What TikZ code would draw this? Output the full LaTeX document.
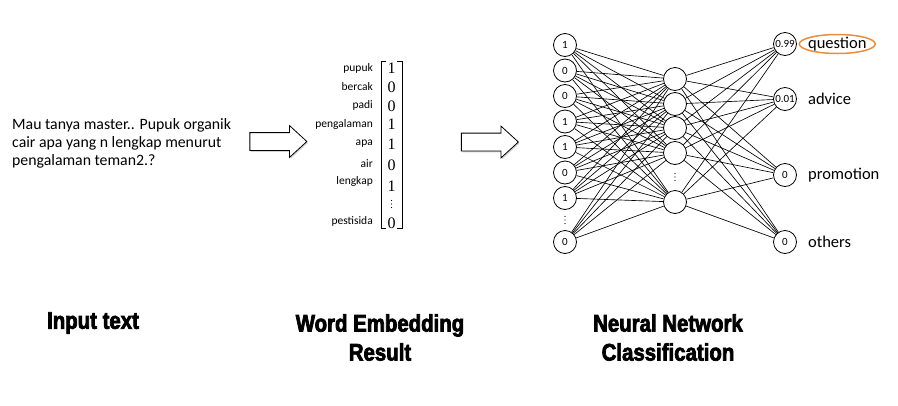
\documentclass[tikz,border=0pt]{standalone}
\usepackage{fontspec}
\setmainfont{Carlito}
\newfontfamily\headfont{Liberation Sans}[FakeStretch=0.85,BoldFeatures={FakeBold=3}]
\newfontfamily\digitfont{Liberation Serif}
\usetikzlibrary{positioning,shapes.arrows,shapes.geometric,shadows,backgrounds}
\definecolor{hlorange}{RGB}{232,142,62}

\tikzset{
  neuron/.style={circle,draw,line width=0.8pt,fill=white,minimum size=23pt,inner sep=0pt,
    font=\fontsize{11}{11}\selectfont},
  edge/.style={line width=0.65pt},
  blockarrow/.style={single arrow,draw,fill=white,line width=0.8pt,inner sep=0pt,
    text height=17pt,text depth=0pt,text width=0pt,minimum height=57pt,
    single arrow head extend=7pt,single arrow tip angle=85,
    drop shadow={opacity=0.35,shadow xshift=1pt,shadow yshift=-1.5pt}},
  wordlabel/.style={anchor=east,inner sep=0pt,font=\fontsize{11.5}{12}\selectfont},
  vecdigit/.style={inner sep=0pt,font=\digitfont\fontsize{16}{16}\selectfont},
  classlabel/.style={anchor=west,inner sep=1pt,font=\fontsize{16.5}{17}\selectfont},
  caption/.style={align=center,font=\headfont\bfseries\fontsize{24}{29}\selectfont}
}

\begin{document}
\begin{tikzpicture}[x=1pt,y=-1pt]
	\useasboundingbox (0,0) rectangle (898,405);
	% input text
	\node[anchor=west,inner sep=0pt,align=left,font=\fontsize{15.8}{18}\selectfont] (intext) at (12,143)
	{Mau tanya master.. Pupuk organik\\cair apa yang n lengkap menurut\\pengalaman teman2.?};
	\node[blockarrow] (arr1) at (273.5,141.5) {};
	% word embedding
	\foreach \w/\y [count=\i] in {pupuk/68,bercak/87,padi/105,pengalaman/124,apa/144,air/164,lengkap/181,pestisida/221}
	\node[wordlabel] (w\i) at (373,\y) {\w};
	\foreach \v/\y [count=\i] in {1/68,0/87,0/106,1/124,1/144,0/165,1/186,0/223}
	\node[vecdigit] (v\i) at (391.5,\y) {\v};
	\coordinate (vdots) at (391.5,204);
	\draw[line width=0.8pt] (386,61) -- (381,61) -- (381,228) -- (386,228);
	\draw[line width=0.8pt] (397,61) -- (402,61) -- (402,228) -- (397,228);
	\node[blockarrow] (arr2) at (485,142) {};
	% network
	\foreach \v/\y [count=\i] in {1/45,0/70.5,0/96,1/121.5,1/147,0/172.5,1/198,0/242}
	\node[neuron] (in\i) at (565,\y) {\v};
	\coordinate (indots) at (565,220);
	\foreach \y [count=\j] in {79,104,128,153,202}
	\node[neuron] (h\j) at (675,\y) {};
	\coordinate (hdots) at (675,177);
	\foreach \v/\y/\t [count=\k] in {0.99/44/question,0.01/99/advice,0/175/promotion,0/242/others}{
		\node[neuron] (out\k) at (785,\y) {\v};
		\node[classlabel,right=10pt of out\k] (lab\k) {\t};
	}
	\begin{scope}[on background layer]
	\foreach \i in {1,...,8}
	\foreach \j in {1,...,5}
	\draw[edge] (in\i) -- (h\j);
	\foreach \j in {1,...,5}
	\foreach \k in {1,...,4}
	\draw[edge] (h\j) -- (out\k);
	\end{scope}
	% vertical dots
	\foreach \n in {vdots,indots,hdots}
	\foreach \d in {-3.5,0,3.5}
	\fill ([yshift=\d pt]\n) circle (0.65pt);
	\node[ellipse,draw=hlorange,line width=1.5pt,minimum width=76pt,minimum height=19pt] (hl) at (lab1.center) {};
	% captions
	\node[caption] (cap1) at (93,323) {Input text};
	\node[caption] (cap2) at (380,337.5) {Word Embedding\\Result};
	\node[caption] (cap3) at (668,337.5) {Neural Network\\Classification};
\end{tikzpicture}
\end{document}
